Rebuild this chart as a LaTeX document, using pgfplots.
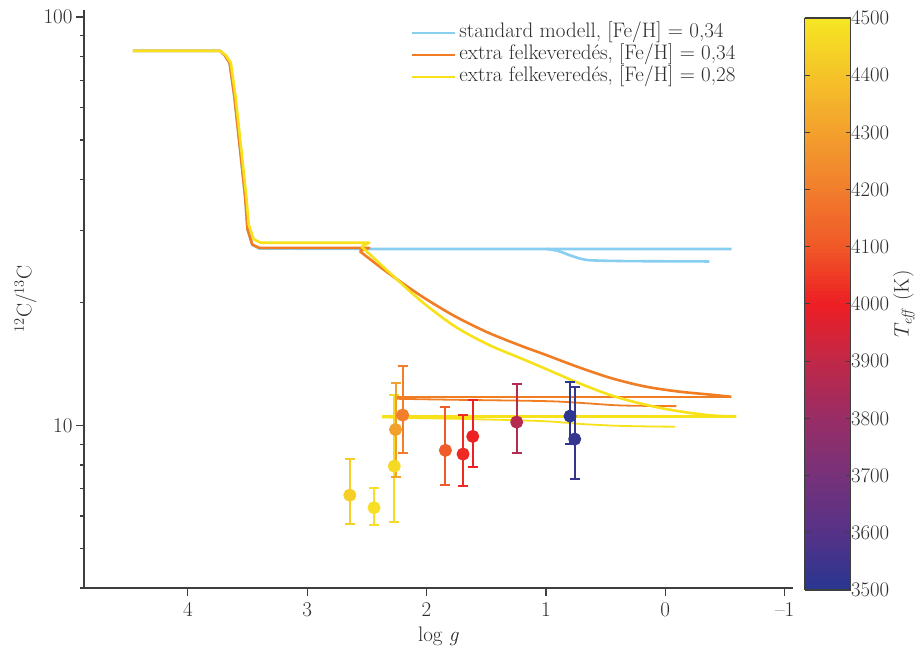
\documentclass[border=0pt]{standalone}
\usepackage{pgfplots}
\pgfplotsset{compat=1.18}

\definecolor{stdblue}{RGB}{135,206,240}
\definecolor{mixorange}{RGB}{240,125,35}
\definecolor{mixyellow}{RGB}{247,225,25}
\definecolor{axgray}{RGB}{62,62,62}
\definecolor{txtgray}{RGB}{45,45,45}
\newcommand{\ff}{\fontsize{21}{23}\selectfont}

\pgfplotsset{colormap={teff}{rgb255(0cm)=(40,55,145); rgb255(1cm)=(85,50,135);
  rgb255(2cm)=(118,50,122); rgb255(3cm)=(152,45,102); rgb255(4cm)=(192,40,72);
  rgb255(5cm)=(237,30,36); rgb255(6cm)=(240,88,40); rgb255(7cm)=(241,125,45);
  rgb255(8cm)=(243,160,45); rgb255(9cm)=(244,195,40); rgb255(10cm)=(246,230,35)}}

% star colours taken from the Teff colormap
\definecolor{t4430}{RGB}{245,206,39}
\definecolor{t4480}{RGB}{246,223,36}
\definecolor{t4465}{RGB}{245,218,37}
\definecolor{t4300}{RGB}{243,160,45}
\definecolor{t4200}{RGB}{241,125,45}
\definecolor{t4110}{RGB}{240,92,41}
\definecolor{t4020}{RGB}{238,42,37}
\definecolor{t4005}{RGB}{237,33,36}
\definecolor{t3870}{RGB}{180,42,81}
\definecolor{t3510}{RGB}{45,55,144}
\definecolor{t3530}{RGB}{54,54,142}

% one star with error bars: colour, x, y, +err, -err
\newcommand{\obsstar}[5]{%
  \addplot[forget plot, only marks, mark=*, mark size=5.2pt, color=#1,
    error bars/.cd, y dir=both, y explicit,
    error bar style={draw=#1, line width=2pt},
    error mark options={draw=#1, rotate=90, mark size=5pt, line width=2pt}]
    coordinates {(#2,#3) += (0,#4) -= (0,#5)};}

\begin{document}
\begin{tikzpicture}
\begin{axis}[name=main, scale only axis, width=709pt, height=578pt,
  x dir=reverse, xmin=-1.07, xmax=4.87,
  ymode=log, ymin=4, ymax=104,
  axis lines*=left, axis line style={axgray, line width=1.4pt},
  tick style={axgray, line width=1.2pt}, tick align=outside,
  major tick length=8pt, minor tick length=4pt,
  xtick={-1,0,1,2,3,4}, xticklabels={{--1},0,1,2,3,4},
  ytick={10,100}, yticklabels={10,100},
  minor ytick={4,5,6,7,8,9,20,30,40,50,60,70,80,90},
  xlabel={log \textit{g}}, ylabel={$^{12}$C/$^{13}$C},
  tick label style={font=\ff, text=txtgray}, label style={font=\ff, text=txtgray},
  xticklabel style={yshift=-3pt}, xlabel style={yshift=-3pt},
  every axis plot/.append style={line join=round, line width=2.6pt},
  legend style={at={(0.457,0.98)}, anchor=north west, draw=none, fill=none,
    font=\ff, text=txtgray, row sep=3pt, column sep=0pt,
    nodes={inner xsep=3pt, inner ysep=0pt, text height=14pt, text depth=5pt}},
  legend cell align=left,
  legend image code/.code={\draw[#1, line width=2.2pt] (0pt,0pt) -- (43pt,0pt);},
  colormap name=teff, colorbar sampled, point meta min=3500, point meta max=4500,
  colorbar style={scale only axis, samples=150,
    at={(parent axis.south east)}, anchor=south west,
    xshift=3pt, yshift=-2pt, width=46pt, height=572pt,
    ytick={3500,3600,...,4500}, scaled y ticks=false,
    yticklabel style={font=\ff, text=txtgray, xshift=-3pt,
      /pgf/number format/1000 sep={}},
    tick align=inside, major tick length=5pt, tick style={axgray, line width=1pt},
    axis line style={axgray, line width=1.2pt},
    ylabel={$T_{\mathit{eff}}$ (K)}, ylabel shift=-3pt,
    ylabel style={font=\ff, text=txtgray}}]

% standard model
\addplot[stdblue] coordinates {(4.46,82.6) (3.73,82.6) (3.69,80.5) (3.65,77.2)
  (3.61,63.8) (3.58,52.9) (3.55,43.9) (3.52,36.3) (3.50,30.2) (3.46,27.7)
  (3.40,27.1) (2.48,27.04) (-0.556,27.04)};
\addlegendentry{standard modell, [Fe/H] = 0,34}
\addplot[stdblue, forget plot, smooth] coordinates {(0.99,27.04) (0.90,26.75)
  (0.80,26.1) (0.70,25.55) (0.60,25.35) (0.30,25.25) (-0.37,25.2)};

% extra mixing, [Fe/H] = 0.34
\addplot[mixorange] coordinates {(4.46,82.6) (3.73,82.6) (3.69,80.5) (3.65,77.2)
  (3.61,63.8) (3.58,52.9) (3.55,43.9) (3.52,36.3) (3.50,30.2) (3.46,27.7)
  (3.40,27.2) (2.48,27.2) (2.56,26.7)};
\addlegendentry{extra felkeveredés, [Fe/H] = 0,34}
\addplot[mixorange, forget plot, smooth] coordinates {(2.56,26.7) (2.322,23.62)
  (2.043,20.73) (1.764,18.52) (1.485,16.88) (1.205,15.65) (1.010,14.92)
  (0.731,13.90) (0.451,13.05) (0.173,12.46) (-0.106,12.11) (-0.386,11.89)
  (-0.554,11.75)};
\addplot[mixorange, forget plot] coordinates {(-0.554,11.75) (2.25,11.75)};
\addplot[mixorange, forget plot, smooth, line width=1.8pt] coordinates {(2.25,11.62)
  (1.8,11.56) (1.01,11.47) (0.7,11.35) (0.4,11.2) (0.1,11.16) (-0.093,11.15)};

% extra mixing, [Fe/H] = 0.28
\addplot[mixyellow] coordinates {(4.46,82.6) (3.73,82.6) (3.68,80.5) (3.64,77.2)
  (3.60,63.8) (3.57,52.9) (3.54,43.9) (3.51,36.3) (3.49,31.0) (3.45,28.6)
  (3.39,28.0) (2.48,28.0) (2.545,27.4)};
\addlegendentry{extra felkeveredés, [Fe/H] = 0,28}
\addplot[mixyellow, forget plot, smooth] coordinates {(2.545,27.4) (2.322,23.84)
  (2.043,20.13) (1.764,17.49) (1.485,15.78) (1.205,14.58) (1.010,13.79)
  (0.731,12.72) (0.451,11.84) (0.173,11.25) (-0.106,10.84) (-0.386,10.58)
  (-0.595,10.52)};
\addplot[mixyellow, forget plot] coordinates {(-0.595,10.52) (2.375,10.52)};
\addplot[mixyellow, forget plot, smooth, line width=1.8pt] coordinates {(2.375,10.46)
  (1.6,10.36) (1.01,10.24) (0.7,10.08) (0.4,9.98) (0.1,9.94) (-0.083,9.93)};

% observed stars
\obsstar{t4430}{2.643}{6.75}{1.51}{1.02}
\obsstar{t4480}{2.44}{6.29}{0.73}{0.60}
\obsstar{t4465}{2.27}{7.95}{3.89}{2.15}
\obsstar{t4300}{2.26}{9.77}{2.95}{2.27}
\obsstar{t4200}{2.20}{10.6}{3.4}{2.04}
\obsstar{t4110}{1.842}{8.69}{2.41}{1.56}
\obsstar{t4020}{1.694}{8.51}{2.09}{1.41}
\obsstar{t4005}{1.613}{9.40}{2.13}{1.47}
\obsstar{t3870}{1.245}{10.19}{2.41}{1.63}
\obsstar{t3510}{0.798}{10.54}{2.23}{1.54}
\obsstar{t3530}{0.759}{9.26}{3.14}{1.87}
\end{axis}
\path ([shift={(-84pt,-60pt)}]main.south west) rectangle ([shift={(129pt,10pt)}]main.north east);
\end{tikzpicture}
\end{document}
